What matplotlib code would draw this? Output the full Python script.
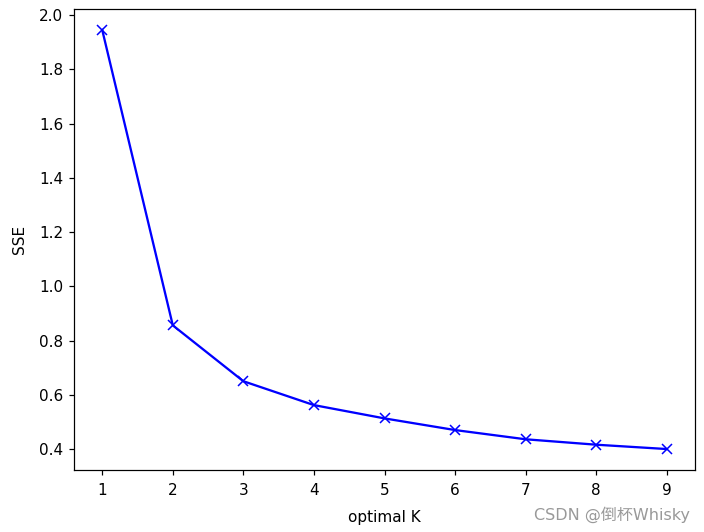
import matplotlib
matplotlib.use("Agg")
import matplotlib.pyplot as plt

k = [1, 2, 3, 4, 5, 6, 7, 8, 9]
sse = [1.945, 0.856, 0.650, 0.562, 0.513, 0.470, 0.436, 0.416, 0.400]

fig = plt.figure(figsize=(704 / 110, 532 / 110), dpi=110)
ax = fig.add_axes([74 / 704, 1 - 470 / 532, (695 - 74) / 704, (470 - 9) / 532])
ax.plot(k, sse, "bx-")
ax.tick_params(axis="x", pad=5)
ax.set_xlabel("optimal K", labelpad=8)
ax.set_ylabel("SSE", labelpad=8)

fig.text(0.98, 0.016, "CSDN @倒杯Whisky", ha="right", va="bottom",
         fontsize=10.5, color="#999999",
         family=["DejaVu Sans", "Noto Sans CJK SC"])

fig.savefig("out.png", dpi=110)
